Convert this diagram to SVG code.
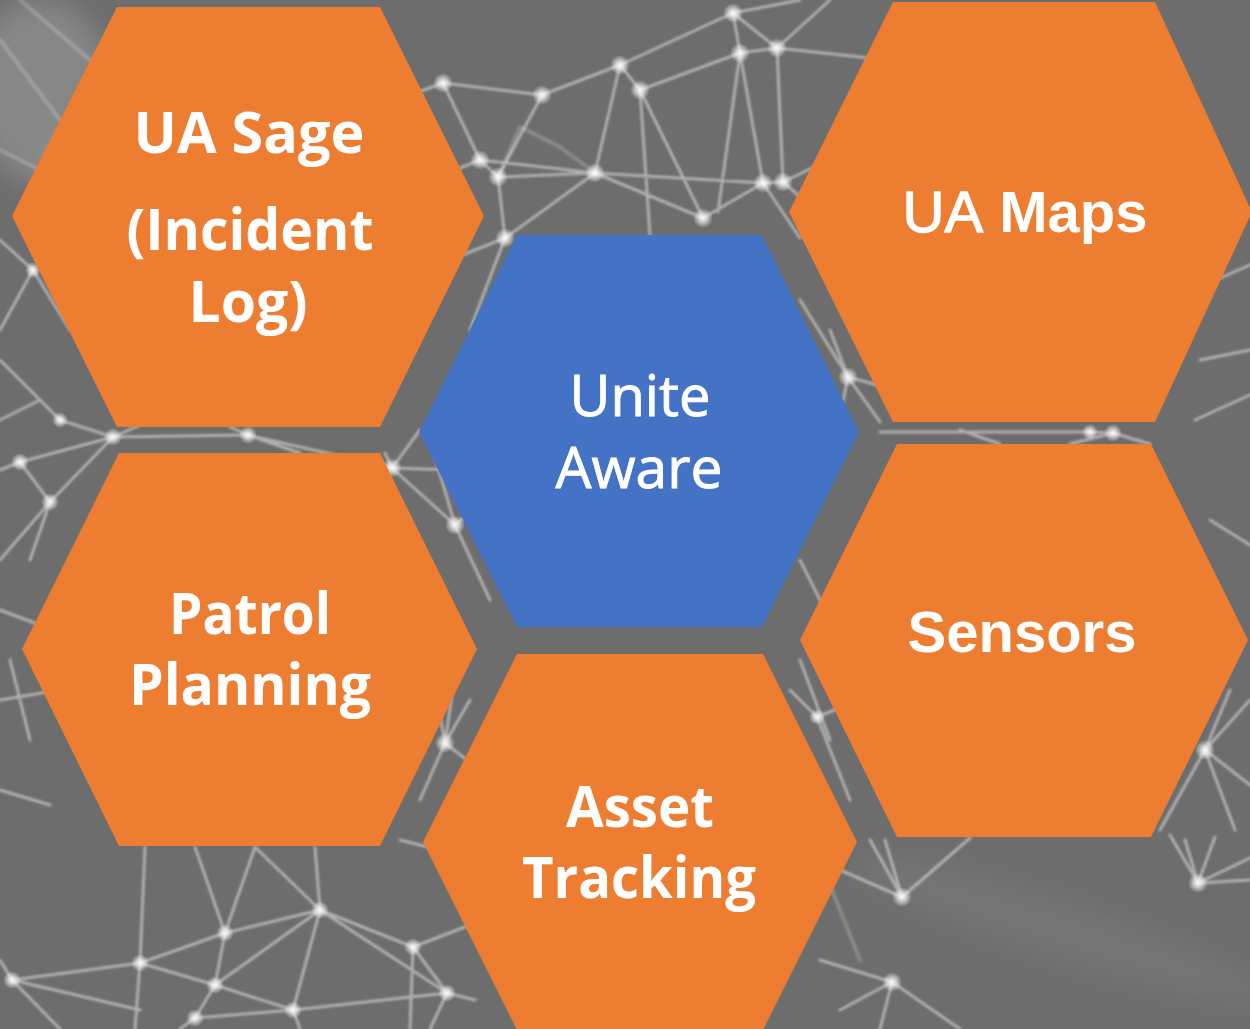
<svg xmlns="http://www.w3.org/2000/svg" width="1250" height="1029" viewBox="0 0 1250 1029">
  <defs>
    <style>
      .hex-o { fill: #ED7D31; }
      .hex-b { fill: #4472C4; }
      .net { fill: none; stroke: #ffffff; stroke-opacity: 0.45; stroke-width: 3; stroke-linecap: round; }
      .net-faint { fill: none; stroke: #ffffff; stroke-opacity: 0.2; stroke-width: 4; stroke-linecap: round; }
      .dot { fill: url(#glow); }
      .lbl-seg { font-family: "Segoe UI", "Open Sans", "Noto Sans", sans-serif; font-weight: 700; font-size: 57px; fill: #ffffff; text-anchor: middle; }
      .lbl-reg { font-family: "Segoe UI", "Open Sans", "Noto Sans", sans-serif; font-weight: 400; font-size: 56px; fill: #ffffff; stroke: #ffffff; stroke-width: 0.9px; text-anchor: middle; }
      .lbl-ar { font-family: "Liberation Sans", Arial, sans-serif; font-weight: 700; font-size: 58px; fill: #ffffff; text-anchor: middle; }
      .semi { font-weight: 400; stroke: #ffffff; stroke-width: 1.3px; }
    </style>
    <radialGradient id="glow">
      <stop offset="0" stop-color="#ffffff" stop-opacity="0.95"/>
      <stop offset="0.45" stop-color="#ffffff" stop-opacity="0.6"/>
      <stop offset="1" stop-color="#ffffff" stop-opacity="0"/>
    </radialGradient>
    <filter id="soft" x="-5%" y="-5%" width="110%" height="110%">
      <feGaussianBlur stdDeviation="0.9"/>
    </filter>
    <filter id="cloud" x="-50%" y="-50%" width="200%" height="200%">
      <feGaussianBlur stdDeviation="14"/>
    </filter>
  </defs>

  <rect x="0" y="0" width="1250" height="1029" fill="#6d6d6d"/>

  <g id="background-network">
    <ellipse cx="40" cy="90" rx="70" ry="90" fill="#ffffff" fill-opacity="0.18" filter="url(#cloud)"/>
    <ellipse cx="90" cy="180" rx="50" ry="40" fill="#ffffff" fill-opacity="0.12" filter="url(#cloud)"/>
    <ellipse cx="1060" cy="930" rx="220" ry="30" transform="rotate(18 1060 930)" fill="#ffffff" fill-opacity="0.05" filter="url(#cloud)"/>
    <g filter="url(#soft)">
      <path class="net-faint" d="M520,127 L560,147 M498,177 L520,127 M560,147 L595,173 M0,40 L60,120 M20,0 L90,60 M0,150 L100,200 M820,860 L860,960"/>
      <path class="net" d="
        M443,83 L542,95 M542,95 L620,65 M620,65 L733,13 M733,13 L740,53 M733,13 L777,48 M620,65 L640,90
        M640,90 L740,53 M740,53 L777,48 M777,48 L870,58 M733,13 L800,0 M740,53 L763,183 M777,48 L783,182
        M443,83 L410,95 M443,83 L480,160 M480,160 L498,177 M498,177 L505,238 M480,160 L595,173 M498,177 L595,173
        M595,173 L620,65 M640,90 L703,218 M595,173 L763,183 M763,183 L783,182 M595,173 L703,218 M703,218 L763,183
        M505,238 L595,173 M542,95 L498,177 M740,53 L718,212 M783,182 L850,240 M763,183 L800,238 M640,90 L650,235
        M777,48 L830,0 M783,182 L870,140 M480,160 L430,180 M505,238 L450,260 M505,238 L470,330
        M33,270 L0,240 M33,270 L70,330 M33,270 L0,330 M0,360 L60,420 M60,420 L113,437 M0,420 L40,400
        M392,468 L455,525 M248,435 L392,468 M113,437 L248,435 M50,502 L113,437 M20,462 L50,502 M20,462 L113,437
        M50,502 L0,560 M455,525 L430,440 M392,468 L420,430 M455,525 L490,600 M113,437 L140,425 M248,435 L230,427
        M392,468 L455,470 M455,525 L520,470 M20,462 L0,470 M50,502 L30,560 M248,435 L300,453 M392,468 L385,453
        M0,610 L40,625 M0,700 L60,690 M0,790 L50,805 M10,660 L30,740
        M445,743 L470,700 M445,743 L420,800 M445,743 L480,770 M430,660 L445,743 M445,743 L460,640 M400,840 L440,850
        M848,377 L880,422 M848,377 L800,300 M848,377 L835,440 M848,377 L895,390 M848,377 L830,330
        M1090,432 L1113,433 M880,432 L1090,432 M1113,433 L1150,444 M1113,433 L1070,444 M960,430 L1000,444
        M1170,300 L1250,265 M1195,420 L1250,395 M1210,520 L1250,545 M1200,360 L1250,350
        M1205,750 L1250,700 M1205,750 L1250,785 M1205,750 L1160,830 M1205,750 L1230,690 M1205,750 L1235,830
        M817,717 L860,700 M817,717 L850,800 M800,660 L830,740 M817,717 L790,690 M830,620 L800,560
        M140,963 L12,980 M140,963 L225,933 M140,963 L215,985 M140,963 L145,847 M140,963 L135,1029
        M225,933 L255,847 M225,933 L320,910 M225,933 L215,985 M225,933 L195,847 M215,985 L320,910
        M215,985 L293,1010 M215,985 L195,1018 M320,910 L315,847 M320,910 L293,1010 M320,910 L413,947
        M320,910 L447,993 M320,910 L255,847 M413,947 L447,993 M413,947 L470,925 M293,1010 L447,993
        M12,980 L0,960 M12,980 L60,1029 M195,1018 L293,1010 M413,947 L410,1029 M447,993 L475,1000
        M12,980 L140,1010 M195,1018 L180,1029 M293,1010 L300,1029 M447,993 L430,1029
        M902,897 L870,840 M902,897 L970,838 M902,897 L840,870 M902,897 L885,840 M892,982 L820,960
        M892,982 L960,1029 M892,982 L880,1029 M892,982 L840,1010 M1198,883 L1170,835 M1198,883 L1250,858
        M1198,883 L1250,880 M1198,883 L1185,840 M1198,883 L1215,837"/>
    </g>
    <g>
      <circle class="dot" cx="443" cy="83" r="10"/>
      <circle class="dot" cx="542" cy="95" r="10"/>
      <circle class="dot" cx="620" cy="65" r="10"/>
      <circle class="dot" cx="640" cy="90" r="10"/>
      <circle class="dot" cx="733" cy="13" r="10"/>
      <circle class="dot" cx="740" cy="53" r="10"/>
      <circle class="dot" cx="777" cy="48" r="10"/>
      <circle class="dot" cx="480" cy="160" r="10"/>
      <circle class="dot" cx="498" cy="177" r="10"/>
      <circle class="dot" cx="595" cy="173" r="10"/>
      <circle class="dot" cx="763" cy="183" r="10"/>
      <circle class="dot" cx="783" cy="182" r="10"/>
      <circle class="dot" cx="703" cy="218" r="10"/>
      <circle class="dot" cx="505" cy="238" r="10"/>
      <circle class="dot" cx="33" cy="270" r="8"/>
      <circle class="dot" cx="60" cy="420" r="8"/>
      <circle class="dot" cx="20" cy="462" r="9"/>
      <circle class="dot" cx="50" cy="502" r="9"/>
      <circle class="dot" cx="113" cy="437" r="9"/>
      <circle class="dot" cx="248" cy="435" r="9"/>
      <circle class="dot" cx="392" cy="468" r="10"/>
      <circle class="dot" cx="455" cy="525" r="10"/>
      <circle class="dot" cx="445" cy="743" r="10"/>
      <circle class="dot" cx="848" cy="377" r="10"/>
      <circle class="dot" cx="1090" cy="432" r="8"/>
      <circle class="dot" cx="1113" cy="433" r="9"/>
      <circle class="dot" cx="1205" cy="750" r="10"/>
      <circle class="dot" cx="817" cy="717" r="8"/>
      <circle class="dot" cx="140" cy="963" r="9"/>
      <circle class="dot" cx="12" cy="980" r="9"/>
      <circle class="dot" cx="225" cy="933" r="9"/>
      <circle class="dot" cx="215" cy="985" r="9"/>
      <circle class="dot" cx="320" cy="910" r="9"/>
      <circle class="dot" cx="293" cy="1010" r="9"/>
      <circle class="dot" cx="195" cy="1018" r="9"/>
      <circle class="dot" cx="413" cy="947" r="9"/>
      <circle class="dot" cx="447" cy="993" r="9"/>
      <circle class="dot" cx="902" cy="897" r="10"/>
      <circle class="dot" cx="892" cy="982" r="10"/>
      <circle class="dot" cx="1198" cy="883" r="10"/>
    </g>
  </g>

  <g id="connectors"></g>

  <g id="node-ua-sage">
    <polygon class="hex-o" points="117,7 380,7 484,216 380,427 117,427 12,216"/>
    <text class="lbl-seg"><tspan x="249" y="153" textLength="231" lengthAdjust="spacingAndGlyphs">UA Sage</tspan><tspan x="250" y="250" textLength="247" lengthAdjust="spacingAndGlyphs">(Incident</tspan><tspan x="248" y="322" textLength="119" lengthAdjust="spacingAndGlyphs">Log)</tspan></text>
  </g>

  <g id="node-ua-maps">
    <polygon class="hex-o" points="893,2 1155,2 1252,212 1155,422 893,422 789,212"/>
    <text class="lbl-ar" x="1025" y="232"><tspan class="semi">UA</tspan> Maps</text>
  </g>

  <g id="node-unite-aware">
    <polygon class="hex-b" points="517,235 762,235 859,432 762,627 517,627 419,432"/>
    <text class="lbl-reg"><tspan x="640" y="416" textLength="141" lengthAdjust="spacingAndGlyphs">Unite</tspan><tspan x="639" y="488" textLength="167" lengthAdjust="spacingAndGlyphs">Aware</tspan></text>
  </g>

  <g id="node-patrol-planning">
    <polygon class="hex-o" points="119,453 380,453 477,649 380,846 119,846 22,649"/>
    <text class="lbl-seg"><tspan x="250" y="634" textLength="162" lengthAdjust="spacingAndGlyphs">Patrol</tspan><tspan x="250" y="705" textLength="242" lengthAdjust="spacingAndGlyphs">Planning</tspan></text>
  </g>

  <g id="node-sensors">
    <polygon class="hex-o" points="897,444 1151,444 1248,640 1151,837 897,837 800,640"/>
    <text class="lbl-ar" x="1022" y="652">Sensors</text>
  </g>

  <g id="node-asset-tracking">
    <polygon class="hex-o" points="517,654 763,654 857,842 763,1030 517,1030 423,842"/>
    <text class="lbl-seg"><tspan x="640" y="827" textLength="148" lengthAdjust="spacingAndGlyphs">Asset</tspan><tspan x="639" y="898" textLength="234" lengthAdjust="spacingAndGlyphs">Tracking</tspan></text>
  </g>
</svg>
